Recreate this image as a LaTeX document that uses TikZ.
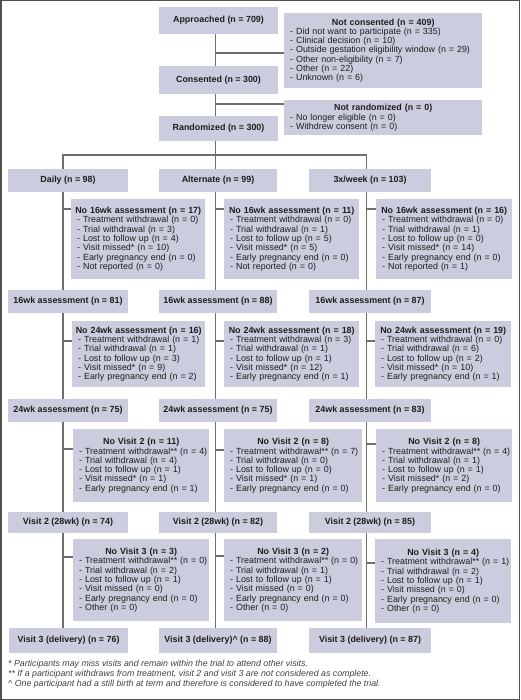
\documentclass[tikz,border=0pt]{standalone}
\usepackage{fontspec}
\setmainfont{Liberation Sans}
\usepackage{tikz}
\definecolor{boxbg}{HTML}{CBCDDF}
\definecolor{linkgray}{HTML}{6E6E6E}
\definecolor{framegray}{HTML}{505050}
\definecolor{inktext}{HTML}{1E1E1E}
\newcommand{\boxhead}[1]{\makebox[\linewidth]{\bfseries #1}}
\newcommand{\boxline}[1]{\mbox{~- #1}}
\tikzset{
  mainbox/.style={
    fill=boxbg,
    inner sep=0pt,
    align=center,
    text=inktext,
    font=\fontsize{8.9}{9.3}\selectfont\bfseries
  },
  sidebox/.style={
    fill=boxbg,
    anchor=north west,
    inner xsep=3pt, inner ysep=0pt,
    align=left,
    text width=#1,
    text=inktext,
    font=\fontsize{8.9}{9.3}\selectfont
  },
  link/.style={draw=linkgray, line width=1.2pt},
  notes/.style={
    anchor=north west, inner sep=0pt, align=left,
    text=inktext!85,
    font=\fontsize{8.8}{10}\selectfont\itshape
  }
}

\begin{document}
\begin{tikzpicture}[x=1pt, y=-1pt]
  \useasboundingbox (0,0) rectangle (520,700);
  \draw[framegray, line width=1.5pt] (0.75,0.75) rectangle (519.25,699.25);

  % column axes
  \coordinate (ax1) at (63,0);
  \coordinate (ax2) at (215.5,0);
  \coordinate (ax3) at (366.5,0);
  \coordinate (split) at (215.5,155);

  % enrolment
  \node[mainbox, minimum width=119, minimum height=27] (appr) at (218.5,20.5) {Approached (n = 709)};
  \node[mainbox, minimum width=119, minimum height=28] (cons) at (218.5,80) {Consented (n = 300)};
  \node[mainbox, minimum width=119, minimum height=25] (rand) at (218.5,128.5) {Randomized (n = 300)};
  \node[sidebox=192pt, minimum height=75] (notcons) at (284,13) {\boxhead{Not consented (n = 409)}\\
    \boxline{Did not want to participate (n = 335)}\\
    \boxline{Clinical decision (n = 10)}\\
    \boxline{Outside gestation eligibility window (n = 29)}\\
    \boxline{Other non-eligibility (n = 7)}\\
    \boxline{Other (n = 22)}\\
    \boxline{Unknown (n = 6)}};
  \node[sidebox=192pt, minimum height=35] (notrand) at (284,100) {\boxhead{Not randomized (n = 0)}\\
    \boxline{No longer eligible (n = 0)}\\
    \boxline{Withdrew consent (n = 0)}};

  % arms
  \node[mainbox, minimum width=120, minimum height=23] (daily) at (68,180.5) {Daily (n = 98)};
  \node[mainbox, minimum width=118, minimum height=23] (alt) at (218,180.5) {Alternate (n = 99)};
  \node[mainbox, minimum width=122, minimum height=23] (thrice) at (370,180.5) {3x/week (n = 103)};

  % 16 weeks
  \node[sidebox=128pt, minimum height=80] (no16a) at (71,199) {\boxhead{No 16wk assessment (n = 17)}\\
    \boxline{Treatment withdrawal (n = 0)}\\
    \boxline{Trial withdrawal (n = 3)}\\
    \boxline{Lost to follow up (n = 4)}\\
    \boxline{Visit missed* (n = 10)}\\
    \boxline{Early pregnancy end (n = 0)}\\
    \boxline{Not reported (n = 0)}};
  \node[sidebox=129pt, minimum height=80] (no16b) at (224,199) {\boxhead{No 16wk assessment (n = 11)}\\
    \boxline{Treatment withdrawal (n = 0)}\\
    \boxline{Trial withdrawal (n = 1)}\\
    \boxline{Lost to follow up (n = 5)}\\
    \boxline{Visit missed* (n = 5)}\\
    \boxline{Early pregnancy end (n = 0)}\\
    \boxline{Not reported (n = 0)}};
  \node[sidebox=130pt, minimum height=80] (no16c) at (376,199) {\boxhead{No 16wk assessment (n = 16)}\\
    \boxline{Treatment withdrawal (n = 0)}\\
    \boxline{Trial withdrawal (n = 1)}\\
    \boxline{Lost to follow up (n = 0)}\\
    \boxline{Visit missed* (n = 14)}\\
    \boxline{Early pregnancy end (n = 0)}\\
    \boxline{Not reported (n = 1)}};
  \node[mainbox, minimum width=120, minimum height=23] (wk16a) at (68,301.5) {16wk assessment (n = 81)};
  \node[mainbox, minimum width=118, minimum height=23] (wk16b) at (218,301.5) {16wk assessment (n = 88)};
  \node[mainbox, minimum width=122, minimum height=23] (wk16c) at (370,301.5) {16wk assessment (n = 87)};

  % 24 weeks
  \node[sidebox=127pt, minimum height=66] (no24a) at (72,321) {\boxhead{No 24wk assessment (n = 16)}\\
    \boxline{Treatment withdrawal (n = 1)}\\
    \boxline{Trial withdrawal (n = 1)}\\
    \boxline{Lost to follow up (n = 3)}\\
    \boxline{Visit missed* (n = 9)}\\
    \boxline{Early pregnancy end (n = 2)}};
  \node[sidebox=129pt, minimum height=66] (no24b) at (224,321) {\boxhead{No 24wk assessment (n = 18)}\\
    \boxline{Treatment withdrawal (n = 3)}\\
    \boxline{Trial withdrawal (n = 1)}\\
    \boxline{Lost to follow up (n = 1)}\\
    \boxline{Visit missed* (n = 12)}\\
    \boxline{Early pregnancy end (n = 1)}};
  \node[sidebox=130pt, minimum height=66] (no24c) at (375,321) {\boxhead{No 24wk assessment (n = 19)}\\
    \boxline{Treatment withdrawal (n = 0)}\\
    \boxline{Trial withdrawal (n = 6)}\\
    \boxline{Lost to follow up (n = 2)}\\
    \boxline{Visit missed* (n = 10)}\\
    \boxline{Early pregnancy end (n = 1)}};
  \node[mainbox, minimum width=120, minimum height=23] (wk24a) at (68,410.5) {24wk assessment (n = 75)};
  \node[mainbox, minimum width=118, minimum height=23] (wk24b) at (218,410.5) {24wk assessment (n = 75)};
  \node[mainbox, minimum width=122, minimum height=23] (wk24c) at (370,410.5) {24wk assessment (n = 83)};

  % visit 2
  \node[sidebox=130pt, minimum height=73] (nov2a) at (73,429) {\boxhead{No Visit 2 (n = 11)}\\
    \boxline{Treatment withdrawal** (n = 4)}\\
    \boxline{Trial withdrawal (n = 4)}\\
    \boxline{Lost to follow up (n = 1)}\\
    \boxline{Visit missed* (n = 1)}\\
    \boxline{Early pregnancy end (n = 1)}};
  \node[sidebox=132pt, minimum height=73] (nov2b) at (224,429) {\boxhead{No Visit 2 (n = 8)}\\
    \boxline{Treatment withdrawal** (n = 7)}\\
    \boxline{Trial withdrawal (n = 0)}\\
    \boxline{Lost to follow up (n = 0)}\\
    \boxline{Visit missed* (n = 1)}\\
    \boxline{Early pregnancy end (n = 0)}};
  \node[sidebox=130pt, minimum height=73] (nov2c) at (376,429) {\boxhead{No Visit 2 (n = 8)}\\
    \boxline{Treatment withdrawal** (n = 4)}\\
    \boxline{Trial withdrawal (n = 1)}\\
    \boxline{Lost to follow up (n = 1)}\\
    \boxline{Visit missed* (n = 2)}\\
    \boxline{Early pregnancy end (n = 0)}};
  \node[mainbox, minimum width=120, minimum height=21] (vis2a) at (68,522.5) {Visit 2 (28wk) (n = 74)};
  \node[mainbox, minimum width=118, minimum height=21] (vis2b) at (218,522.5) {Visit 2 (28wk) (n = 82)};
  \node[mainbox, minimum width=122, minimum height=21] (vis2c) at (370,522.5) {Visit 2 (28wk) (n = 85)};

  % visit 3
  \node[sidebox=130pt, minimum height=82] (nov3a) at (73,539) {\boxhead{No Visit 3 (n = 3)}\\
    \boxline{Treatment withdrawal** (n = 0)}\\
    \boxline{Trial withdrawal (n = 2)}\\
    \boxline{Lost to follow up (n = 1)}\\
    \boxline{Visit missed (n = 0)}\\
    \boxline{Early pregnancy end (n = 0)}\\
    \boxline{Other (n = 0)}};
  \node[sidebox=132pt, minimum height=82] (nov3b) at (224,539) {\boxhead{No Visit 3 (n = 2)}\\
    \boxline{Treatment withdrawal** (n = 0)}\\
    \boxline{Trial withdrawal (n = 1)}\\
    \boxline{Lost to follow up (n = 1)}\\
    \boxline{Visit missed (n = 0)}\\
    \boxline{Early pregnancy end (n = 0)}\\
    \boxline{Other (n = 0)}};
  \node[sidebox=130pt, minimum height=84] (nov3c) at (375,539) {\boxhead{No Visit 3 (n = 4)}\\
    \boxline{Treatment withdrawal** (n = 1)}\\
    \boxline{Trial withdrawal (n = 2)}\\
    \boxline{Lost to follow up (n = 1)}\\
    \boxline{Visit missed (n = 0)}\\
    \boxline{Early pregnancy end (n = 0)}\\
    \boxline{Other (n = 0)}};
  \node[mainbox, minimum width=119, minimum height=25] (vis3a) at (68.5,640.5) {Visit 3 (delivery) (n = 76)};
  \node[mainbox, minimum width=118, minimum height=25] (vis3b) at (218,640.5) {Visit 3 (delivery)\textasciicircum\ (n = 88)};
  \node[mainbox, minimum width=122, minimum height=25] (vis3c) at (370,640.5) {Visit 3 (delivery) (n = 87)};

  \node[notes] (footnotes) at (8,660) {* Participants may miss visits and remain within the trial to attend other visits.\\
    ** If a participant withdraws from treatment, visit 2 and visit 3 are not considered as complete.\\
    \textasciicircum\ One participant had a still birth at term and therefore is considered to have completed the trial.};

  % trunks
  \foreach \top/\bot/\ax in {appr/cons/ax2, cons/rand/ax2,
      daily/wk16a/ax1, wk16a/wk24a/ax1, wk24a/vis2a/ax1, vis2a/vis3a/ax1,
      alt/wk16b/ax2, wk16b/wk24b/ax2, wk24b/vis2b/ax2, vis2b/vis3b/ax2,
      thrice/wk16c/ax3, wk16c/wk24c/ax3, wk24c/vis2c/ax3, vis2c/vis3c/ax3}
    \draw[link] (\top.south -| \ax) -- (\bot.north -| \ax);

  % split into arms
  \draw[link] (rand.south -| split) -- (split);
  \draw[link] (daily.north -| ax1) |- (split) -| (thrice.north -| ax3);
  \draw[link] (split) -- (alt.north -| ax2);

  % side branches
  \foreach \n/\d/\ax in {notcons/40/ax2, notrand/4/ax2,
      no16a/10/ax1, no16b/10/ax2, no16c/10/ax3,
      no24a/20/ax1, no24b/20/ax2, no24c/20/ax3,
      nov2a/20/ax1, nov2b/21/ax2, nov2c/15/ax3,
      nov3a/18/ax1, nov3b/17/ax2, nov3c/24/ax3} {
    \coordinate (\n-br) at ([yshift=-\d pt]\n.north west);
    \draw[link] (\n-br -| \ax) -- (\n-br);
  }
\end{tikzpicture}
\end{document}
